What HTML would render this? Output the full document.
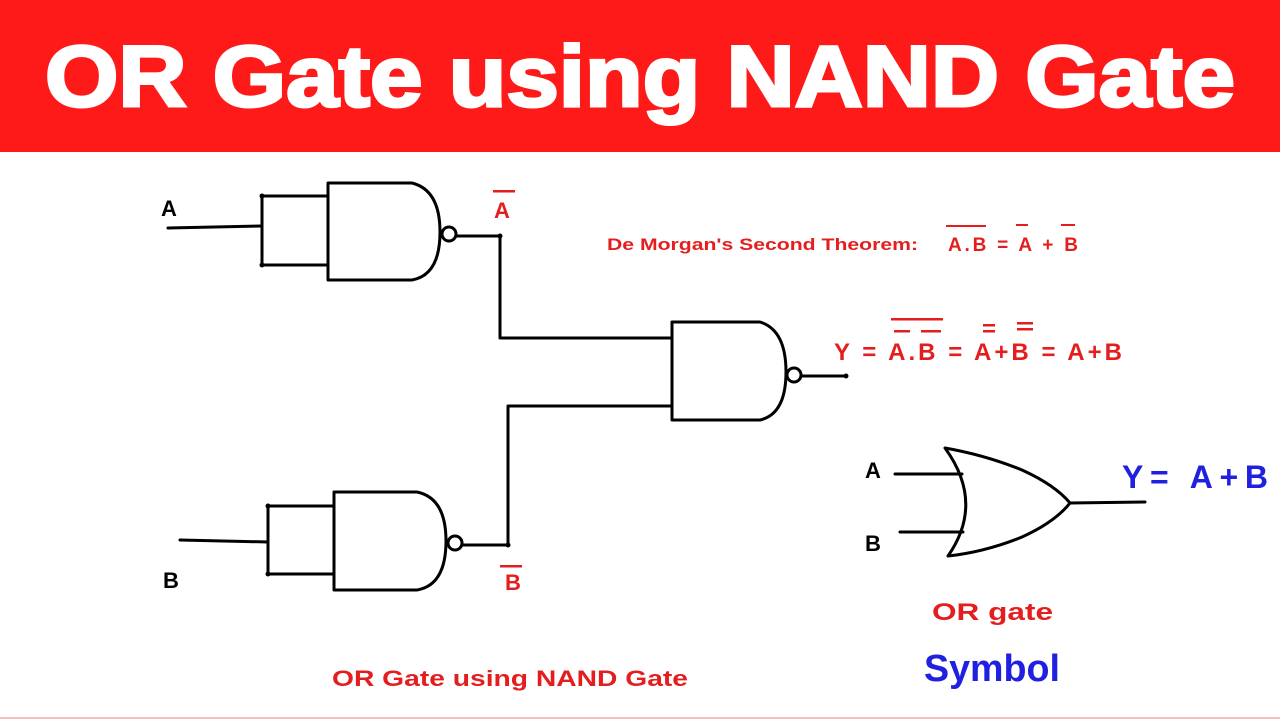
<!DOCTYPE html>
<html><head><meta charset="utf-8"><style>
html,body{margin:0;padding:0;background:#fff;}
svg{display:block}
</style></head><body>
<svg width="1280" height="720" viewBox="0 0 1280 720" xmlns="http://www.w3.org/2000/svg" font-family="Liberation Sans, sans-serif" font-weight="bold">
<rect x="0" y="0" width="1280" height="152" fill="#FF1A1A"/>
<text x="45" y="106" fill="#fff" font-size="86" stroke="#fff" stroke-width="3" textLength="1190" lengthAdjust="spacingAndGlyphs">OR Gate using NAND Gate</text>
<line x1="0" y1="718" x2="1280" y2="718" stroke="#f3c0c0" stroke-width="2"/>
<g fill="none" stroke="#000" stroke-width="3" stroke-linecap="round" stroke-linejoin="round">
<path d="M328,183 H412 Q440,190 440,232 Q440,275 412,280 H328 Z"/>
<circle cx="449" cy="234" r="7"/>
<path d="M328,196 H262 V265 H328"/>
<path d="M168,228 L262,226"/>
<path d="M456,236 H500 V338 H672"/>
<path d="M334,492 H417 Q446,498 446,541 Q446,585 417,590 H334 Z"/>
<circle cx="455" cy="543" r="7"/>
<path d="M334,506 H268 V574 H334"/>
<path d="M180,540 L268,542"/>
<path d="M462,545 H508 V406 H672"/>
<path d="M672,322 H760 Q786,330 786,372 Q786,414 760,420 H672 Z"/>
<circle cx="794" cy="375" r="7"/>
<path d="M801,376 H846"/>
<path d="M945,448 Q985,455 1022,470 Q1055,485 1070,503 Q1055,522 1022,537 Q985,552 948,556 Q985,503 945,448 Z"/>
<path d="M895,474 H962"/>
<path d="M900,532 H963"/>
<path d="M1070,503 L1145,502"/>
</g>
<g fill="#000"><circle cx="262" cy="196" r="2.5"/><circle cx="262" cy="265" r="2.5"/><circle cx="268" cy="506" r="2.5"/><circle cx="268" cy="574" r="2.5"/><circle cx="500" cy="236" r="2.5"/><circle cx="508" cy="545" r="2.5"/><circle cx="846" cy="376" r="2.5"/></g>
<g fill="#000" font-size="22">
<text x="161" y="216">A</text>
<text x="163" y="588">B</text>
<text x="865" y="478">A</text>
<text x="865" y="551">B</text>
</g>
<g fill="#e41e1e" stroke="none" xml:space="preserve">
<text x="494" y="218" font-size="22">A</text>
<rect x="493" y="190" width="22" height="2.5"/>
<text x="505" y="590" font-size="22">B</text>
<rect x="500" y="565" width="22" height="2.5"/>
<text x="607" y="250" font-size="17" textLength="311" lengthAdjust="spacingAndGlyphs">De Morgan's Second Theorem:</text>
<text x="948" y="251" font-size="19" textLength="130" lengthAdjust="spacing">A.B  =  A  +  B</text>
<rect x="946" y="225" width="40" height="2"/>
<rect x="1016" y="224" width="12" height="2"/>
<rect x="1061" y="224" width="14" height="2"/>
<text x="834" y="360" font-size="24" textLength="288" lengthAdjust="spacing">Y  =  A.B  =  A+B =  A+B</text>
<rect x="891" y="318" width="52" height="2.5"/>
<rect x="894" y="330" width="16" height="2.5"/>
<rect x="921" y="330" width="20" height="2.5"/>
<rect x="983" y="324" width="12" height="2.5"/><rect x="983" y="330" width="12" height="2.5"/>
<rect x="1017" y="322" width="16" height="2.5"/><rect x="1017" y="328" width="16" height="2.5"/>
<text x="332" y="686" font-size="22" textLength="356" lengthAdjust="spacingAndGlyphs">OR Gate using NAND Gate</text>
<text x="932" y="620" font-size="24" textLength="121" lengthAdjust="spacingAndGlyphs">OR gate</text>
</g>
<g fill="#2020e0" xml:space="preserve">
<text x="1122" y="488" font-size="32" textLength="146" lengthAdjust="spacing">Y=  A+B</text>
<text x="924" y="681" font-size="38" textLength="136" lengthAdjust="spacingAndGlyphs">Symbol</text>
</g>
</svg>
</body></html>
